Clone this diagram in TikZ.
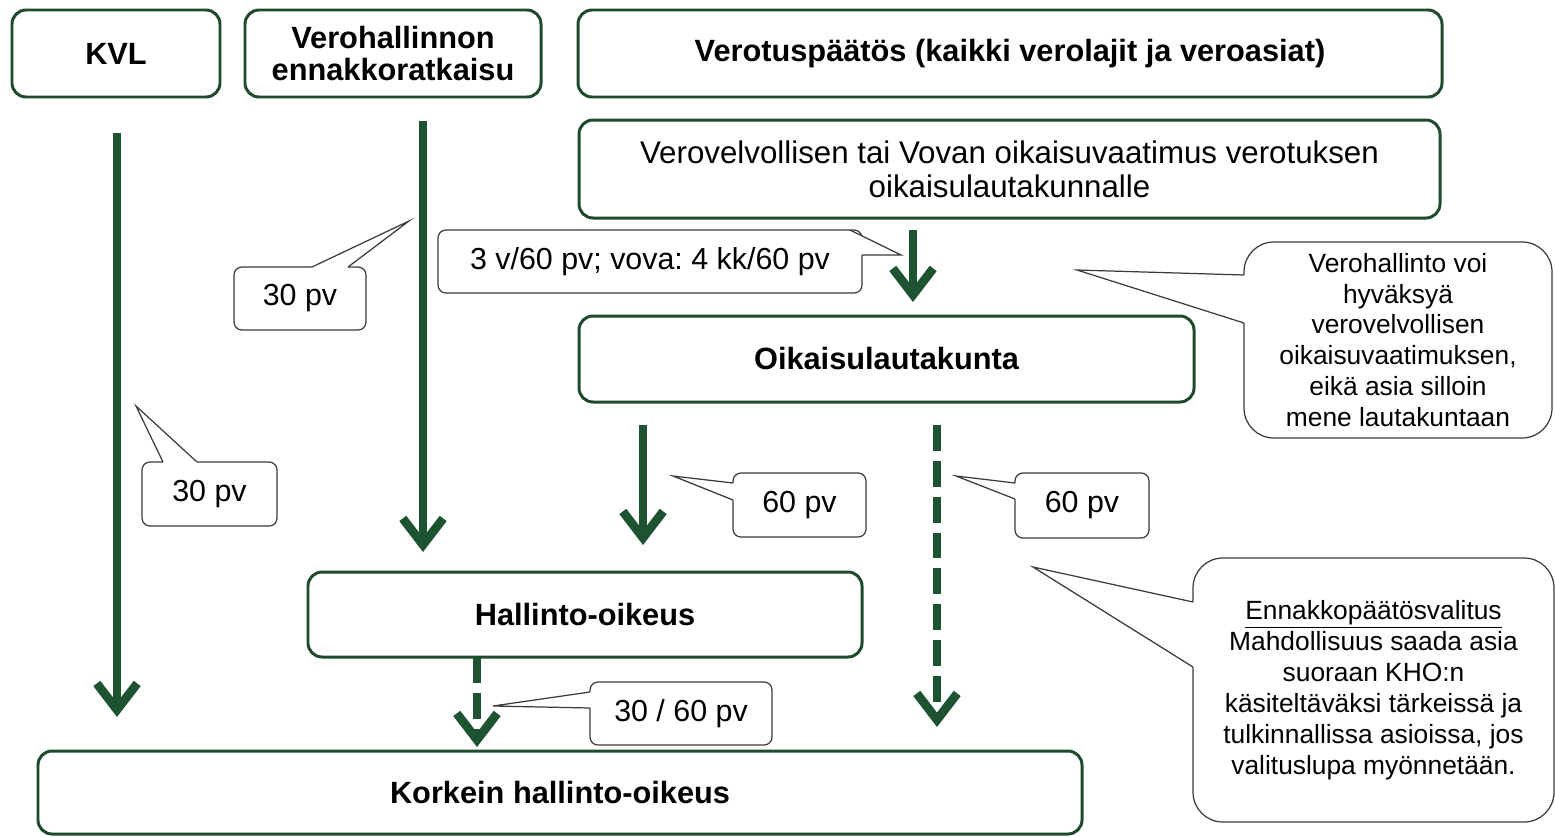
\documentclass[tikz,border=0pt]{standalone}
\usepackage{fontspec}
\setmainfont{Liberation Sans}
\usetikzlibrary{arrows.meta,fit,calc}
\definecolor{boxg}{HTML}{1F4A2E}
\definecolor{arrg}{HTML}{1E5331}
\definecolor{cg}{HTML}{3A3A3A}
\frenchspacing
\begin{document}
\begin{tikzpicture}[x=0.02cm,y=-0.02cm,
  box/.style={draw=boxg,line width=1.7pt,rounded corners=8pt,fill=white,inner sep=0pt},
  btxt/.style={align=center,inner sep=0pt,font=\fontsize{17.5}{18.5}\selectfont\bfseries},
  ptxt/.style={align=center,inner sep=0pt,font=\fontsize{17.8}{19.3}\selectfont},
  call/.style={draw=cg,line width=0.7pt,rounded corners=4.5pt,fill=white,inner sep=0pt},
  ctxt/.style={align=center,inner sep=0pt,font=\fontsize{17.3}{19}\selectfont},
  bigcall/.style={call,rounded corners=17pt},
  bctxt/.style={align=center,inner sep=0pt,font=\fontsize{15}{17.6}\selectfont},
  cline/.style={draw=cg,line width=0.7pt,line join=miter},
  arr/.style={draw=arrg,line width=5pt,-{Straight Barb[length=15pt,width=23pt]}},
  darr/.style={arr,dash pattern=on 14.7pt off 5.7pt}]
\useasboundingbox (0,0) rectangle (1555,836);

% main boxes
\node[box,fit={(12,10)(220,97)}] (kvl) {};
\node[btxt] (kvlt) at (kvl.center) {KVL};
\node[box,fit={(245,10)(541,97)}] (vero) {};
\node[btxt] (verot) at (vero.center) {Verohallinnon\\ennakkoratkaisu};
\node[box,fit={(578,10)(1442,97)}] (paatos) {};
\node[btxt] (paatost) at (paatos.center) {Verotuspäätös (kaikki verolajit ja veroasiat)};
\node[box,fit={(579,120)(1440,218)}] (vaat) {};
\node[ptxt] (vaatt) at (vaat.center) {Verovelvollisen tai Vovan oikaisuvaatimus verotuksen\\oikaisulautakunnalle};
\node[box,fit={(579,316)(1194,402)}] (oik) {};
\node[btxt] (oikt) at (oik.center) {Oikaisulautakunta};
\node[box,fit={(308,572)(862,657)}] (ho) {};
\node[btxt] (hot) at (ho.center) {Hallinto-oikeus};
\node[box,fit={(38,751)(1082,834)}] (kho) {};
\node[btxt] (khot) at (kho.center) {Korkein hallinto-oikeus};

% arrows
\coordinate (k1) at (117,133); \coordinate (k2) at (117,717);
\coordinate (v1) at (423,121); \coordinate (v2) at (423,552);
\coordinate (q1) at (913,230); \coordinate (q2) at (913,302);
\coordinate (o1) at (643,425); \coordinate (o2) at (643,545);
\coordinate (d1) at (937,425); \coordinate (d2) at (937,727);
\coordinate (h1) at (477,657); \coordinate (h2) at (477,747);
\draw[arr] (k1) -- (k2);
\draw[arr] (v1) -- (v2);
\draw[arr] (q1) -- (q2);
\draw[arr] (o1) -- (o2);
\draw[darr] (d1) -- (d2);
\draw[darr] (h1) -- (h2);

% callout: 30 pv (upper)
\node[call,fit={(234,267)(366,330)}] (c30a) {};
\node[ctxt] (c30at) at (c30a.center) {30 pv};
\fill[white] (312,271) -- (312,267) -- (409,221) -- (348,267) -- (348,271) -- cycle;
\draw[cline] (312,267) -- (409,221) -- (348,267);

% callout: 3 v/60 pv
\node[call,fit={(438,230)(862,293)}] (c3v) {};
\node[ctxt] (c3vt) at (c3v.center) {3 v/60 pv; vova: 4 kk/60 pv};
\fill[white] (850,234) -- (850,230) -- (901,255) -- (862,255) -- (858,255) -- (858,234) -- cycle;
\draw[cline] (850,230) -- (901,255) -- (862,255);

% callout: 30 pv (KVL)
\node[call,fit={(142,462)(277,526)}] (c30b) {};
\node[ctxt] (c30bt) at (c30b.center) {30 pv};
\fill[white] (163,466) -- (163,462) -- (136,406) -- (197,462) -- (197,466) -- cycle;
\draw[cline] (163,462) -- (136,406) -- (197,462);

% callout: 60 pv (middle)
\node[call,fit={(733,473)(866,537)}] (c60a) {};
\node[ctxt] (c60at) at (c60a.center) {60 pv};
\fill[white] (737,483) -- (733,483) -- (673,476) -- (733,500) -- (737,500) -- cycle;
\draw[cline] (733,483) -- (673,476) -- (733,500);

% callout: 60 pv (right)
\node[call,fit={(1015,473)(1149,538)}] (c60b) {};
\node[ctxt] (c60bt) at (c60b.center) {60 pv};
\fill[white] (1019,483) -- (1015,483) -- (956,476) -- (1015,499) -- (1019,499) -- cycle;
\draw[cline] (1015,483) -- (956,476) -- (1015,499);

% callout: 30 / 60 pv
\node[call,fit={(590,682)(772,745)}] (c3060) {};
\node[ctxt] (c3060t) at (c3060.center) {30 / 60 pv};
\fill[white] (594,692) -- (590,692) -- (493,706) -- (590,708) -- (594,708) -- cycle;
\draw[cline] (590,692) -- (493,706) -- (590,708);

% big callout: Verohallinto voi
\node[bigcall,fit={(1244,242)(1552,438)}] (cvero) {};
\node[bctxt] (cverot) at (cvero.center) {Verohallinto voi\\hyväksyä\\verovelvollisen\\oikaisuvaatimuksen,\\eikä asia silloin\\mene lautakuntaan};
\fill[white] (1248,275) -- (1244,275) -- (1077,270) -- (1244,323) -- (1248,323) -- cycle;
\draw[cline] (1244,275) -- (1077,270) -- (1244,323);

% big callout: Ennakkopaatosvalitus
\node[bigcall,fit={(1193,558)(1554,822)}] (cenn) {};
\node[bctxt] (cennt) at (cenn.center) {\underline{Ennakkopäätösvalitus}\\Mahdollisuus saada asia\\suoraan KHO:n\\käsiteltäväksi tärkeissä ja\\tulkinnallissa asioissa, jos\\valituslupa myönnetään.};
\fill[white] (1197,602) -- (1193,602) -- (1033,567) -- (1193,667) -- (1197,667) -- cycle;
\draw[cline] (1193,602) -- (1033,567) -- (1193,667);
\end{tikzpicture}
\end{document}
